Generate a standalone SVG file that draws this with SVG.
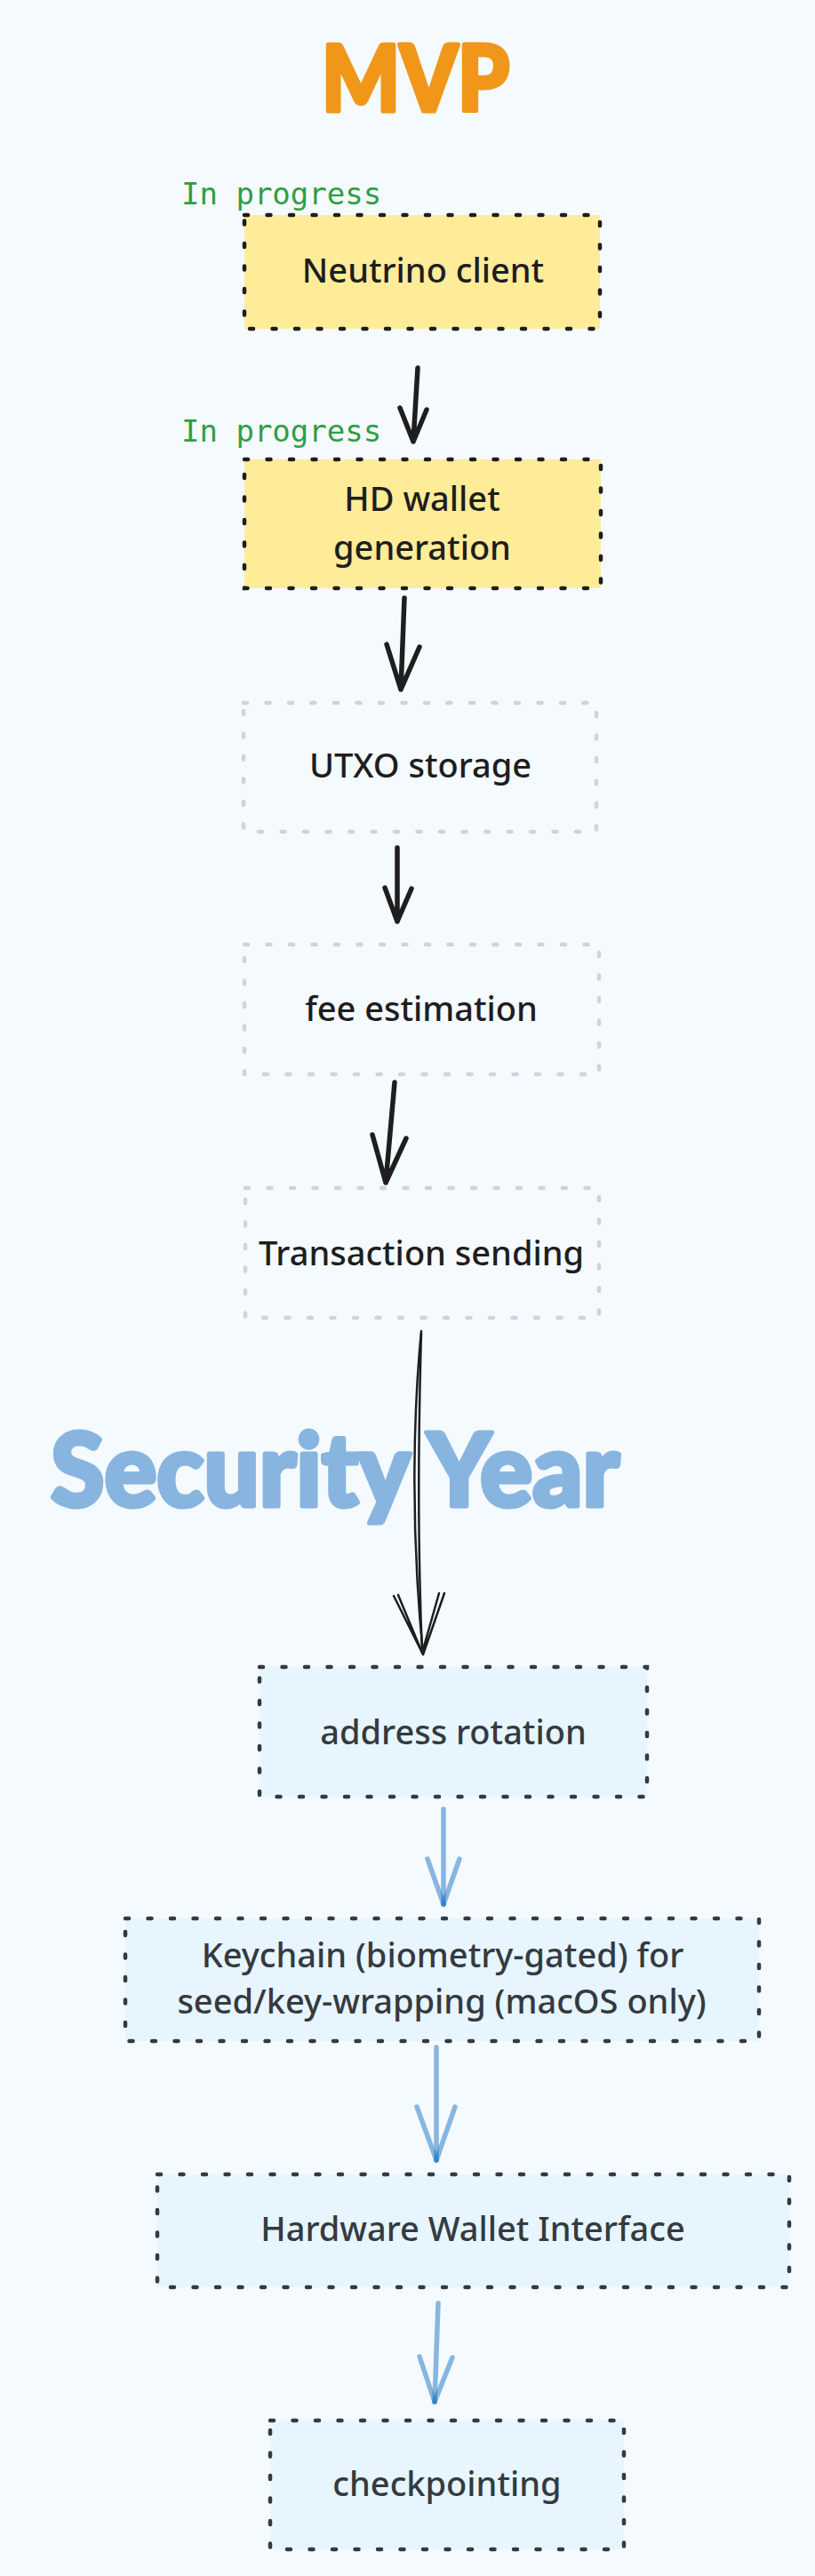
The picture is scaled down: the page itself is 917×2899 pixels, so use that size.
<svg xmlns="http://www.w3.org/2000/svg" width="917" height="2899" viewBox="0 0 917 2899">
<style>
.bg{fill:#f5faff}
.head{font-family:Lato,"Open Sans","Liberation Sans",sans-serif;font-weight:900;stroke-width:5;stroke-linejoin:round;paint-order:stroke}
.lbl{font-family:"Noto Sans","Open Sans","Liberation Sans",sans-serif;font-size:38px;font-weight:500;text-anchor:middle}
.dark{fill:#1e1e1e}
.gray{fill:#343a40}
.tag{font-family:"DejaVu Sans Mono","Liberation Mono",monospace;font-size:34px;fill:#2f9e44}
.dotY{fill:#ffec99;stroke:#1e1e1e;stroke-width:4.5;stroke-linecap:round;stroke-dasharray:4 21.5}
.dotB{fill:#e7f5ff;stroke:#343a40;stroke-width:4.5;stroke-linecap:round;stroke-dasharray:4 21.5}
.dash{fill:none;stroke:#ced4da;stroke-width:4.5;stroke-linecap:round;stroke-dasharray:4 21.5}
.ak{fill:none;stroke:#1e1e1e;stroke-width:5.5;stroke-linecap:round;stroke-linejoin:round}
.thin{fill:none;stroke:#1e1e1e;stroke-width:2.5;stroke-linecap:round;stroke-linejoin:round}
.ab{fill:none;stroke:#1971c2;stroke-opacity:0.5;stroke-width:5.5;stroke-linecap:round}
</style>
<rect class="bg" x="0" y="0" width="917" height="2899"/>

<g id="title-mvp"><text class="head" x="362" y="125" font-size="103" fill="#f0971a" stroke="#f0971a" textLength="211" lengthAdjust="spacingAndGlyphs">MVP</text></g>
<g id="title-security"><text class="head" x="57" y="1695" font-size="114" fill="#87b5e0" stroke="#87b5e0" textLength="640" lengthAdjust="spacingAndGlyphs">Security Year</text></g>

<g id="tag1"><text class="tag" x="204" y="230">In progress</text></g>
<g id="tag2"><text class="tag" x="204" y="497">In progress</text></g>

<g id="connectors">
<path class="ak" d="M470 414 L465 497 M450 459 L465 497 L480 461"/>
<path class="ak" d="M455 673 L451 776 M435 725 L451 776 L472 728"/>
<path class="ak" d="M447 954 L447 1037 M433 999 L447 1037 L463 1000"/>
<path class="ak" d="M444 1218 L434 1331 M419 1277 L434 1331 L457 1281"/>
<path class="thin" d="M474 1498 C466 1580 461 1710 476 1862"/>
<path class="thin" d="M474 1500 C471 1600 469 1720 475 1860"/>
<path class="thin" d="M443 1796 L476 1862 L500 1793 M448 1795 L475 1860 L494 1793"/>
<path class="ab" d="M499 2036 L499 2143"/>
<path class="ab" d="M481 2092 L499 2143"/>
<path class="ab" d="M517 2092 L499 2143"/>
<path class="ab" d="M491 2304 L491 2431"/>
<path class="ab" d="M469 2371 L491 2431"/>
<path class="ab" d="M512 2371 L491 2431"/>
<path class="ab" d="M493 2592 L489 2703"/>
<path class="ab" d="M472 2652 L489 2703"/>
<path class="ab" d="M509 2653 L489 2703"/>
</g>

<g id="neutrino"><rect class="dotY" x="275" y="242" width="400" height="128"/><text class="lbl dark" x="476" y="318">Neutrino client</text></g>
<g id="hd-wallet"><rect class="dotY" x="275" y="517" width="401" height="145"/><text class="lbl dark" x="475" y="575">HD wallet</text><text class="lbl dark" x="475" y="630">generation</text></g>
<g id="utxo"><rect class="dash" x="274" y="791" width="397" height="145"/><text class="lbl dark" x="473" y="875">UTXO storage</text></g>
<g id="fee"><rect class="dash" x="275" y="1063" width="399" height="146"/><text class="lbl dark" x="474" y="1149">fee estimation</text></g>
<g id="tx"><rect class="dash" x="276" y="1337" width="398" height="146"/><text class="lbl dark" x="474" y="1424">Transaction sending</text></g>
<g id="address"><rect class="dotB" x="292" y="1876" width="436" height="146"/><text class="lbl gray" x="510" y="1963">address rotation</text></g>
<g id="keychain"><rect class="dotB" x="141" y="2159" width="713" height="138"/><text class="lbl gray" x="498" y="2214">Keychain (biometry-gated) for</text><text class="lbl gray" x="497" y="2266">seed/key-wrapping (macOS only)</text></g>
<g id="hardware"><rect class="dotB" x="177" y="2447" width="711" height="127"/><text class="lbl gray" x="532" y="2522">Hardware Wallet Interface</text></g>
<g id="checkpointing"><rect class="dotB" x="304" y="2724" width="398" height="145"/><text class="lbl gray" x="503" y="2809">checkpointing</text></g>
</svg>
